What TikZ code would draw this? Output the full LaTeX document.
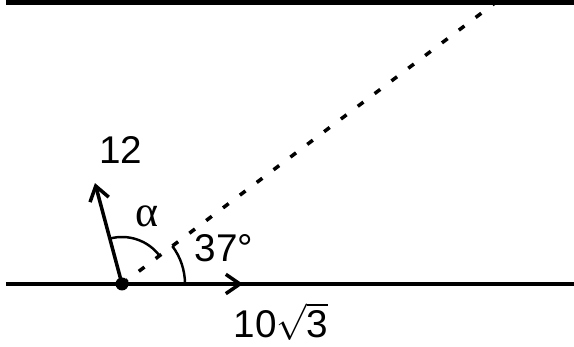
\documentclass[tikz,border=0pt]{standalone}
\usepackage{fontspec}
\setmainfont{Liberation Sans}
\newfontfamily\greekfont{Liberation Serif}
\usetikzlibrary{arrows.meta}

\begin{document}
\begin{tikzpicture}[>={Straight Barb[length=8pt,width=11pt]},line width=2pt,
    font=\fontsize{22}{26}\selectfont]
  \useasboundingbox (-2.44,-1.26) rectangle (9.04,5.68);
  % point, lines and vectors
  \coordinate (O) at (0,0);
  \coordinate (L1) at (-2.32,0);
  \coordinate (R1) at (9.04,0);
  \coordinate (L2) at (-2.32,5.63);
  \coordinate (R2) at (9.04,5.63);
  \coordinate (F) at (105:2.09);
  \coordinate (V) at (2.42,0);
  \coordinate (D) at (37:9.35);
  \draw (L1) -- (R1);
  \draw[line width=2.6pt] (L2) -- (R2);
  \draw[dash pattern=on 4pt off 8pt] (O) -- (D);
  \draw[->] (O) -- (F);
  \draw[->] (O) -- (V);
  % angle marks
  \draw[line width=1.4pt] (37:0.94) arc[start angle=37,end angle=105,radius=0.94];
  \draw[line width=1.4pt] (1.26,0) arc[start angle=0,end angle=37,radius=1.26];
  \fill (O) circle (0.13);
  \node (twelve) at (-0.02,2.68) {12};
  \node (alpha) at (0.5,1.36) {\greekfont\fontsize{25}{28}\selectfont α};
  \node (deg) at (2.04,0.72) {37°};
  \node (speed) at (3.18,-0.76) {10$\sqrt{\mbox{3}}$};
\end{tikzpicture}
\end{document}
